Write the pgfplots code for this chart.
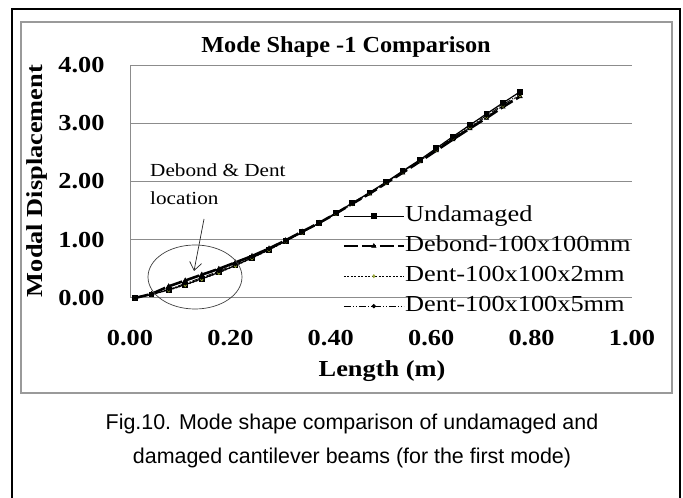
\documentclass[border=0pt]{standalone}
\usepackage{fontspec}
\usepackage{pgfplots}
\pgfplotsset{compat=1.18}
\usetikzlibrary{arrows.meta}
\newfontfamily\cf[FakeStretch=1.15]{Liberation Serif}
\newfontfamily\tf[FakeStretch=1.06]{Liberation Serif}
\newfontfamily\capf{Liberation Sans}
\definecolor{gridgray}{HTML}{8C8C8C}
\definecolor{framegray}{HTML}{9A9A9A}
\definecolor{olivemk}{HTML}{9AA83A}

\pgfplotstableread{
x y
0.010 0.00
0.043 0.06
0.077 0.14
0.110 0.23
0.143 0.33
0.177 0.44
0.210 0.56
0.243 0.69
0.277 0.83
0.310 0.98
0.343 1.13
0.377 1.29
0.410 1.46
0.443 1.63
0.477 1.81
0.510 1.99
0.543 2.18
0.577 2.37
0.610 2.57
0.643 2.77
0.677 2.97
0.710 3.16
0.743 3.35
0.777 3.54
}\undamaged
\pgfplotstableread{
x y
0.010 0.00
0.043 0.07
0.077 0.20
0.110 0.30
0.143 0.40
0.177 0.50
0.210 0.61
0.243 0.72
0.277 0.85
0.310 0.99
0.343 1.14
0.377 1.29
0.410 1.45
0.443 1.62
0.477 1.79
0.510 1.97
0.543 2.15
0.577 2.34
0.610 2.53
0.643 2.72
0.677 2.91
0.710 3.09
0.743 3.28
0.777 3.46
}\debond
\pgfplotstableread{
x y
0.010 0.00
0.043 0.06
0.077 0.13
0.110 0.22
0.143 0.32
0.177 0.43
0.210 0.55
0.243 0.68
0.277 0.82
0.310 0.97
0.343 1.12
0.377 1.28
0.410 1.44
0.443 1.61
0.477 1.79
0.510 1.97
0.543 2.16
0.577 2.35
0.610 2.54
0.643 2.74
0.677 2.93
0.710 3.11
0.743 3.30
0.777 3.48
}\denttwo
\pgfplotstableread{
x y
0.010 0.00
0.043 0.06
0.077 0.15
0.110 0.25
0.143 0.35
0.177 0.46
0.210 0.58
0.243 0.70
0.277 0.84
0.310 0.98
0.343 1.13
0.377 1.28
0.410 1.45
0.443 1.62
0.477 1.80
0.510 1.98
0.543 2.17
0.577 2.36
0.610 2.55
0.643 2.75
0.677 2.95
0.710 3.13
0.743 3.32
0.777 3.50
}\dentfive

\begin{document}
\begin{tikzpicture}
\path[use as bounding box] (0bp,0bp) rectangle (683bp,498bp);
\clip (0bp,0bp) rectangle (683bp,498bp);
\fill[white] (0bp,0bp) rectangle (683bp,498bp);
\draw[black, line width=2.2bp] (12bp,-20bp) rectangle (680bp,489bp);
\draw[framegray, line width=2.5bp] (21bp,105bp) rectangle (672bp,476bp);

\begin{axis}[
  at={(130bp,200bp)}, anchor=south west,
  scale only axis, width=502bp, height=233bp,
  xmin=0, xmax=1, ymin=0, ymax=4,
  axis x line*=bottom, axis y line*=left,
  axis line style={gridgray, line width=1bp, -},
  ymajorgrids, grid style={gridgray, line width=1bp},
  xtick={0,0.2,0.4,0.6,0.8,1},
  xticklabels={0.00,0.20,0.40,0.60,0.80,1.00},
  ytick={0,1,2,3,4},
  yticklabels={0.00,1.00,2.00,3.00,4.00},
  major tick length=0pt,
  /pgf/number format/assume math mode=true,
  tick label style={font=\cf\bfseries\fontsize{23}{23}\selectfont},
  xticklabel style={anchor=north, yshift=-29bp},
  yticklabel style={anchor=east, xshift=-22bp},
  clip=false,
  legend style={at={(rel axis cs:0.423,0.395)}, anchor=north west, draw=none, fill=none,
    inner sep=0pt, font=\cf\fontsize{23}{23}\selectfont, row sep=10bp,
    nodes={inner sep=0pt, text height=15bp, text depth=5bp},
    /tikz/every even column/.append style={column sep=6bp}},
  legend cell align=left,
  legend image code/.code={\draw[mark repeat=2,mark phase=2,#1] plot coordinates {(0bp,0bp) (30bp,0bp) (60bp,0bp)};},
]
\addplot[black, line width=1.2bp, mark=square*, mark size=2.3bp, mark options={solid}] table {\undamaged};
\addlegendentry{Undamaged}
\addplot[black, line width=2.6bp, dash pattern=on 14bp off 4bp, mark=triangle*, mark size=2.6bp, mark options={solid, line width=0.5bp}] table {\debond};
\addlegendentry{Debond-100x100mm}
\addplot[black, line width=0.6bp, dash pattern=on 2bp off 1.5bp, mark=diamond*, mark size=1.6bp, mark options={solid, draw=olivemk, fill=olivemk}] table {\denttwo};
\addlegendentry{Dent-100x100x2mm}
\addplot[black, line width=0.8bp, dash pattern=on 7bp off 2bp on 1bp off 2bp on 1bp off 2bp, mark=*, mark size=1.7bp, mark options={solid}] table {\dentfive};
\addlegendentry{Dent-100x100x5mm}
\end{axis}

\node[font=\tf\bfseries\fontsize{23}{23}\selectfont] at (346bp,451bp) {Mode Shape -1 Comparison};
\node[font=\cf\bfseries\fontsize{23}{23}\selectfont, rotate=90] at (37bp,317bp) {Modal Displacement};
\node[font=\cf\bfseries\fontsize{23}{23}\selectfont] at (382bp,127bp) {Length (m)};

\node[anchor=north west, align=left, inner sep=0pt, font=\cf\fontsize{18.5}{28}\selectfont] at (150bp,334bp) {Debond \& Dent\\location};
\draw[line width=0.7bp, black!75] (195bp,221bp) ellipse (47bp and 32bp);
\draw[line width=0.7bp, black!85, -{Straight Barb[length=8bp,width=12bp]}] (204bp,279bp) -- (194bp,227bp);

\node[font=\capf\fontsize{21.5}{21.5}\selectfont] at (352bp,74bp) {Fig.10. Mode shape comparison of undamaged and};
\node[font=\capf\fontsize{21.5}{21.5}\selectfont] at (352bp,40bp) {damaged cantilever beams (for the first mode)};
\end{tikzpicture}
\end{document}
